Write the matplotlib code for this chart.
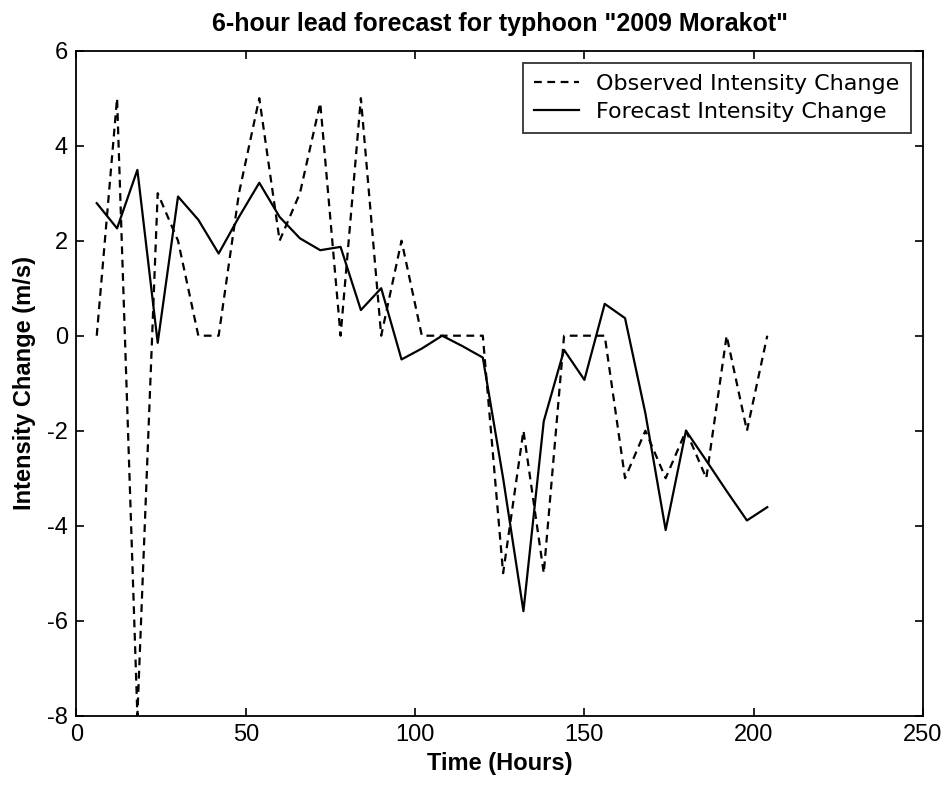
import matplotlib
matplotlib.use("Agg")
import matplotlib.pyplot as plt

plt.rcParams['axes.unicode_minus'] = False

hours = [6, 12, 18, 24, 30, 36, 42, 48, 54, 60, 66, 72, 78, 84, 90, 96, 102,
         108, 114, 120, 126, 132, 138, 144, 150, 156, 162, 168, 174, 180, 186,
         192, 198, 204]
observed = [0, 5, -8, 3, 2, 0, 0, 3, 5, 2, 3, 4.9, 0, 5, 0, 2, 0,
            0, 0, 0, -5, -2, -5, 0, 0, 0, -3, -2, -3, -2, -3,
            0, -2, 0]
forecast = [2.79, 2.26, 3.49, -0.15, 2.93, 2.44, 1.73, 2.5, 3.22, 2.5, 2.05,
            1.8, 1.87, 0.54, 1.0, -0.5, -0.27, 0.0, -0.22, -0.46, -3.0, -5.8,
            -1.8, -0.3, -0.93, 0.67, 0.37, -1.63, -4.09, -2.0, -2.63, -3.27,
            -3.89, -3.61]
xticks = [0, 50, 100, 150, 200, 250]
yticks = [-8, -6, -4, -2, 0, 2, 4, 6]

fam = ['Liberation Sans', 'DejaVu Sans']

fig = plt.figure(figsize=(9.47, 7.91), dpi=100)
ax = fig.add_axes([0.0807, 0.0952, 0.8940, 0.8407])

l1, = ax.plot(hours, observed, color='black', lw=1.6, linestyle='--',
              label='Observed Intensity Change')
l1.set_dashes([3.5, 2.5])
ax.plot(hours, forecast, color='black', lw=1.6, linestyle='-',
        label='Forecast Intensity Change')

ax.set_xlim(0, 250)
ax.set_ylim(-8, 6)
ax.set_xticks(xticks)
ax.set_yticks(yticks)
ax.tick_params(direction='in', top=True, right=True, length=6, width=1.2,
               labelsize=17, pad=6)
for lab in ax.get_xticklabels() + ax.get_yticklabels():
    lab.set_fontfamily(fam)
for sp in ax.spines.values():
    sp.set_linewidth(1.3)

ax.set_title('6-hour lead forecast for typhoon "2009 Morakot"',
             fontsize=18, fontweight='bold', family=fam, pad=14)
ax.set_xlabel('Time (Hours)', fontsize=17, fontweight='bold',
              family=fam, labelpad=4)
ax.set_ylabel('Intensity Change (m/s)', fontsize=17, fontweight='bold',
              family=fam, labelpad=8)

leg = ax.legend(loc='upper right', frameon=True, fancybox=False,
                edgecolor='black', handlelength=2.0, borderpad=0.5,
                labelspacing=0.35, handletextpad=0.8, borderaxespad=0.55,
                prop={'family': ['DejaVu Sans'], 'size': 16})
leg.get_frame().set_linewidth(1.3)

fig.savefig('out.png', dpi=100, facecolor='white')
